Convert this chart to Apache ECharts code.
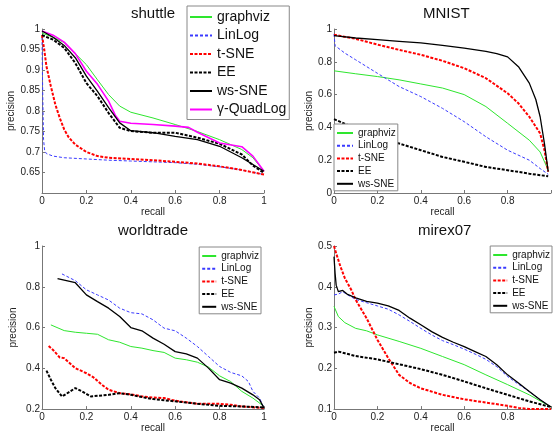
<!DOCTYPE html>
<html><head><meta charset="utf-8">
<script src="https://cdn.jsdelivr.net/npm/echarts@6/dist/echarts.min.js"></script>
<style>html,body{margin:0;padding:0;background:#fff}#c{width:554px;height:434px}</style>
</head><body><div id="c"></div>
<script>
// ---- data: [recall, precision] ----
const shuttleGraphviz = [[0,0.99],[0.05,0.98],[0.1,0.967],[0.15,0.94],[0.2,0.913],[0.25,0.876],[0.3,0.84],[0.35,0.812],[0.4,0.797],[0.5,0.783],[0.6,0.767],[0.7,0.75],[0.8,0.73],[0.9,0.706],[0.95,0.686],[1,0.653]];
const shuttleLinLog = [[0,0.98],[0.003,0.85],[0.007,0.73],[0.012,0.703],[0.02,0.696],[0.05,0.69],[0.1,0.686],[0.2,0.683],[0.3,0.68],[0.4,0.678],[0.5,0.676],[0.6,0.674],[0.7,0.67],[0.8,0.664],[0.9,0.656],[1,0.645]];
const shuttleTSNE = [[0,0.985],[0.01,0.95],[0.02,0.909],[0.04,0.86],[0.06,0.816],[0.08,0.783],[0.1,0.755],[0.12,0.736],[0.15,0.718],[0.2,0.7],[0.25,0.69],[0.3,0.686],[0.4,0.683],[0.5,0.68],[0.6,0.676],[0.7,0.672],[0.8,0.665],[0.9,0.656],[1,0.645]];
const shuttleEE = [[0,0.985],[0.05,0.974],[0.1,0.954],[0.15,0.917],[0.2,0.868],[0.25,0.836],[0.3,0.795],[0.35,0.759],[0.4,0.751],[0.5,0.747],[0.6,0.747],[0.7,0.735],[0.8,0.72],[0.9,0.694],[0.95,0.667],[1,0.649]];
const shuttleWsSNE = [[0,0.995],[0.05,0.98],[0.1,0.96],[0.15,0.93],[0.2,0.885],[0.25,0.848],[0.3,0.808],[0.35,0.771],[0.4,0.752],[0.5,0.747],[0.6,0.738],[0.7,0.73],[0.8,0.714],[0.9,0.686],[1,0.653]];
const shuttleQuadLog = [[0,0.995],[0.05,0.985],[0.1,0.968],[0.15,0.94],[0.2,0.897],[0.25,0.865],[0.3,0.824],[0.33,0.79],[0.35,0.775],[0.4,0.77],[0.5,0.767],[0.6,0.763],[0.66,0.76],[0.7,0.748],[0.8,0.722],[0.9,0.713],[0.95,0.69],[1,0.653]];

const mnistGraphviz = [[0,0.745],[0.1,0.727],[0.2,0.71],[0.3,0.69],[0.4,0.665],[0.5,0.64],[0.6,0.6],[0.7,0.527],[0.8,0.425],[0.9,0.322],[0.95,0.25],[0.987,0.14]];
const mnistLinLog = [[0,0.97],[0.005,0.898],[0.05,0.853],[0.1,0.812],[0.2,0.73],[0.3,0.649],[0.4,0.588],[0.5,0.516],[0.6,0.435],[0.7,0.343],[0.8,0.261],[0.9,0.2],[0.95,0.149],[0.987,0.114]];
const mnistTSNE = [[0,0.965],[0.1,0.94],[0.2,0.905],[0.3,0.873],[0.4,0.843],[0.5,0.806],[0.6,0.761],[0.7,0.7],[0.8,0.608],[0.85,0.547],[0.9,0.465],[0.95,0.363],[0.97,0.26],[0.987,0.13]];
const mnistEE = [[0,0.45],[0.1,0.394],[0.2,0.343],[0.3,0.302],[0.4,0.261],[0.5,0.22],[0.6,0.19],[0.7,0.159],[0.8,0.139],[0.9,0.118],[0.987,0.102]];
const mnistWsSNE = [[0,0.96],[0.1,0.945],[0.2,0.935],[0.3,0.925],[0.4,0.915],[0.5,0.9],[0.6,0.884],[0.7,0.863],[0.75,0.85],[0.8,0.83],[0.85,0.77],[0.9,0.67],[0.93,0.57],[0.95,0.465],[0.97,0.3],[0.987,0.13]];

const worldGraphviz = [[0.04,0.613],[0.1,0.585],[0.15,0.577],[0.2,0.572],[0.25,0.567],[0.3,0.54],[0.35,0.528],[0.4,0.507],[0.45,0.499],[0.5,0.487],[0.55,0.478],[0.6,0.45],[0.65,0.442],[0.7,0.43],[0.75,0.406],[0.8,0.363],[0.85,0.335],[0.9,0.287],[0.95,0.254],[1,0.213]];
const worldLinLog = [[0.09,0.863],[0.15,0.83],[0.2,0.785],[0.25,0.76],[0.3,0.735],[0.35,0.695],[0.4,0.673],[0.45,0.667],[0.5,0.638],[0.55,0.597],[0.6,0.584],[0.65,0.548],[0.7,0.507],[0.75,0.458],[0.8,0.409],[0.85,0.38],[0.9,0.363],[0.93,0.335],[0.95,0.287],[0.98,0.254],[1,0.205]];
const worldTSNE = [[0.03,0.51],[0.05,0.49],[0.08,0.453],[0.1,0.45],[0.15,0.401],[0.2,0.376],[0.23,0.357],[0.27,0.319],[0.3,0.295],[0.35,0.278],[0.4,0.273],[0.45,0.262],[0.5,0.257],[0.55,0.254],[0.6,0.241],[0.7,0.226],[0.8,0.226],[0.85,0.221],[0.9,0.213],[1,0.205]];
const worldEE = [[0.02,0.389],[0.04,0.344],[0.06,0.303],[0.09,0.262],[0.12,0.282],[0.15,0.303],[0.18,0.287],[0.22,0.262],[0.3,0.27],[0.35,0.278],[0.4,0.27],[0.45,0.259],[0.5,0.249],[0.6,0.238],[0.7,0.226],[0.8,0.216],[0.9,0.213],[1,0.208]];
const worldWsSNE = [[0.07,0.84],[0.15,0.82],[0.2,0.76],[0.25,0.727],[0.3,0.695],[0.35,0.654],[0.4,0.6],[0.45,0.584],[0.5,0.548],[0.55,0.518],[0.6,0.482],[0.65,0.471],[0.7,0.45],[0.75,0.401],[0.8,0.344],[0.85,0.327],[0.9,0.303],[0.95,0.27],[0.98,0.246],[1,0.205]];

const mirexGraphviz = [[0,0.352],[0.02,0.327],[0.05,0.312],[0.1,0.298],[0.15,0.292],[0.2,0.282],[0.3,0.266],[0.4,0.249],[0.5,0.229],[0.6,0.209],[0.7,0.184],[0.8,0.16],[0.9,0.135],[1,0.105]];
const mirexLinLog = [[0,0.38],[0.02,0.382],[0.04,0.388],[0.06,0.381],[0.1,0.369],[0.15,0.361],[0.2,0.353],[0.25,0.345],[0.3,0.331],[0.35,0.315],[0.4,0.298],[0.45,0.282],[0.5,0.268],[0.55,0.258],[0.6,0.247],[0.65,0.235],[0.7,0.222],[0.75,0.204],[0.8,0.18],[0.85,0.161],[0.9,0.143],[0.95,0.123],[1,0.105]];
const mirexTSNE = [[0,0.5],[0.01,0.482],[0.03,0.449],[0.05,0.421],[0.08,0.392],[0.1,0.368],[0.15,0.323],[0.2,0.27],[0.25,0.225],[0.3,0.184],[0.35,0.164],[0.4,0.151],[0.5,0.135],[0.6,0.124],[0.7,0.116],[0.8,0.108],[0.85,0.103],[0.9,0.1],[1,0.1]];
const mirexEE = [[0,0.238],[0.02,0.241],[0.05,0.237],[0.1,0.23],[0.2,0.222],[0.3,0.21],[0.4,0.198],[0.5,0.184],[0.6,0.168],[0.7,0.151],[0.8,0.135],[0.9,0.119],[1,0.105]];
const mirexWsSNE = [[0,0.474],[0.005,0.433],[0.01,0.404],[0.02,0.388],[0.04,0.391],[0.06,0.382],[0.1,0.373],[0.15,0.364],[0.2,0.36],[0.25,0.353],[0.3,0.342],[0.35,0.323],[0.4,0.307],[0.45,0.29],[0.5,0.276],[0.55,0.264],[0.6,0.253],[0.65,0.241],[0.7,0.229],[0.75,0.209],[0.8,0.184],[0.85,0.164],[0.9,0.143],[0.95,0.123],[1,0.105]];

const panelTitles = ['shuttle','MNIST','worldtrade','mirex07'];
const legendNames = ['graphviz','LinLog','t-SNE','EE','ws-SNE','γ-QuadLog'];
const yTicks = [[0.6,1,0.05],[0,1,0.2],[0.2,1,0.2],[0.1,0.5,0.1]]; // min,max,interval

// ---- styles ----
const FONT = 'Liberation Sans, Arial, Helvetica, sans-serif';
const styles = {
  'graphviz': {color:'#2ee62e', width:1, type:'solid'},
  'LinLog': {color:'#3a3aff', width:1, type:[3,2]},
  't-SNE': {color:'#ff0000', width:2, type:[3,1.5]},
  'EE': {color:'#000000', width:2, type:[3,1.5]},
  'ws-SNE': {color:'#000000', width:1.3, type:'solid'},
  'γ-QuadLog': {color:'#ff00ff', width:1.6, type:'solid'}
};
const panelData = [
  {'graphviz':shuttleGraphviz,'LinLog':shuttleLinLog,'t-SNE':shuttleTSNE,'EE':shuttleEE,'ws-SNE':shuttleWsSNE,'γ-QuadLog':shuttleQuadLog},
  {'graphviz':mnistGraphviz,'LinLog':mnistLinLog,'t-SNE':mnistTSNE,'EE':mnistEE,'ws-SNE':mnistWsSNE},
  {'graphviz':worldGraphviz,'LinLog':worldLinLog,'t-SNE':worldTSNE,'EE':worldEE,'ws-SNE':worldWsSNE},
  {'graphviz':mirexGraphviz,'LinLog':mirexLinLog,'t-SNE':mirexTSNE,'EE':mirexEE,'ws-SNE':mirexWsSNE}
];
const grids = [
  {left:42, width:222, top:29, height:164},
  {left:334, width:222, top:29, height:164},
  {left:42, width:222, top:246, height:164},
  {left:334, width:222, top:246, height:164}
];
const titlePos = [{left:131,top:6},{left:423,top:6},{left:118,top:223},{left:418,top:223}];
const yNameGap = [24,18,24,18];

const fmt = v => String(+(+v).toFixed(2));
const hiddenSym = {color:'rgba(0,0,0,0)', borderColor:'rgba(0,0,0,0)', borderWidth:0};
const smallLegend = (pos, n, iw) => Object.assign({orient:'vertical', padding:[4,2,2,2], itemWidth:iw, itemHeight:10, itemGap:2.7,
     borderColor:'#888', borderWidth:1, backgroundColor:'#fff', itemStyle:hiddenSym,
     textStyle:{fontFamily:FONT, fontSize:10, color:'#111'}, data:legendNames.slice(0,n), selectedMode:false}, pos);
const option = {
  animation:false,
  backgroundColor:'#fff',
  title: panelTitles.map((t,i)=>({text:t, left:titlePos[i].left, top:titlePos[i].top, padding:0,
    textStyle:{fontFamily:FONT, fontSize:15, fontWeight:'normal', color:'#111'}})),
  grid: grids.map(g=>Object.assign({containLabel:false}, g)),
  xAxis: grids.map((g,i)=>({type:'value', gridIndex:i, min:0, max:1, interval:0.2,
    name:'recall', nameLocation:'middle', nameGap:12.5,
    nameTextStyle:{fontFamily:FONT, fontSize:10, color:'#222'},
    axisLine:{show:true, lineStyle:{color:'#777', width:1}},
    axisTick:{show:true, inside:true, length:3, lineStyle:{color:'#777'}},
    axisLabel:{fontFamily:FONT, fontSize:10, color:'#222', margin:3,
      formatter: v => (i%2===1 && v>=1) ? '' : fmt(v)},
    splitLine:{show:false}})),
  yAxis: grids.map((g,i)=>({type:'value', gridIndex:i, min:yTicks[i][0], max:yTicks[i][1], interval:yTicks[i][2],
    name:'precision', nameLocation:'middle', nameGap:yNameGap[i],
    nameTextStyle:{fontFamily:FONT, fontSize:10, color:'#222'},
    axisLine:{show:true, lineStyle:{color:'#777', width:1}},
    axisTick:{show:true, inside:true, length:3, lineStyle:{color:'#777'}},
    axisLabel:{fontFamily:FONT, fontSize:10, color:'#222', margin:2,
      formatter: v => (i===0 && Math.abs(v-0.6)<1e-6) ? '' : fmt(v)},
    splitLine:{show:false}})),
  legend: [
    {orient:'vertical', left:187, top:6, padding:[4,3,3,2], itemWidth:22, itemHeight:14, itemGap:4.5,
     borderColor:'#888', borderWidth:1, backgroundColor:'#fff', itemStyle:hiddenSym,
     textStyle:{fontFamily:FONT, fontSize:14, color:'#111'}, data:legendNames, selectedMode:false},
    smallLegend({left:334, top:124}, 5, 16),
    smallLegend({right:293, top:247}, 5, 14),
    smallLegend({right:2, top:246}, 5, 14)
  ],
  series: []
};
panelData.forEach((pd,i)=>{
  Object.keys(pd).forEach(name=>{
    const s = styles[name];
    option.series.push({type:'line', name:name, xAxisIndex:i, yAxisIndex:i, data:pd[name],
      symbol:'none', showSymbol:false, smooth:false, z: name==='ws-SNE'?3:2,
      lineStyle:{color:s.color, width:s.width, type:s.type},
      itemStyle:{color:s.color}});
  });
});
const chart = echarts.init(document.getElementById('c'), null, {renderer:'canvas'});
chart.setOption(option);
</script>
</body></html>
